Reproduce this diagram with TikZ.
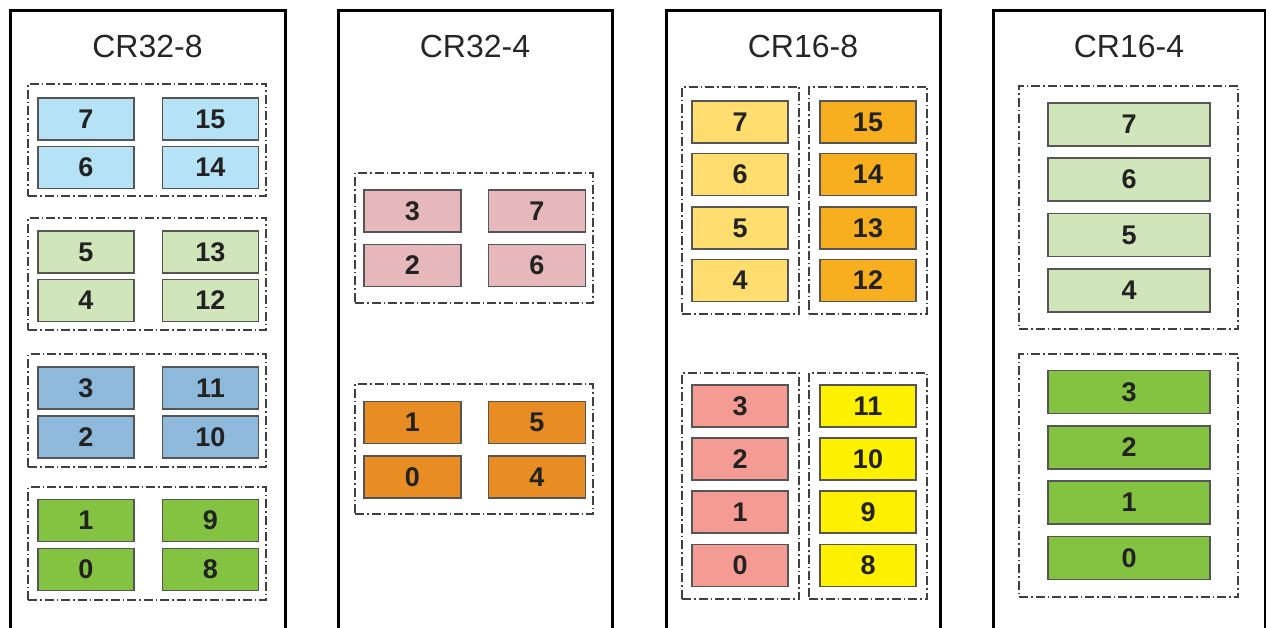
\documentclass[tikz,border=0pt]{standalone}
\usepackage{fontspec}
\setmainfont{Liberation Sans}
\definecolor{cLightBlue}{HTML}{B5E2F4}
\definecolor{cLightGreen}{HTML}{D1E5BA}
\definecolor{cMidBlue}{HTML}{8EB9DB}
\definecolor{cGreen}{HTML}{84C342}
\definecolor{cPink}{HTML}{E6B8BB}
\definecolor{cOrange}{HTML}{E88D23}
\definecolor{cLightYellow}{HTML}{FFDD6F}
\definecolor{cOrangeB}{HTML}{F8AF1F}
\definecolor{cSalmon}{HTML}{F49B93}
\definecolor{cYellow}{HTML}{FFF100}
\definecolor{cBorder}{HTML}{555555}
\definecolor{cText}{HTML}{222222}
\tikzset{
  cell/.style={draw=cBorder, line width=1.3pt, minimum width=96pt, minimum height=42pt,
    inner sep=0pt, text=cText, font=\fontsize{27}{30}\selectfont\bfseries},
  wcell/.style={cell, minimum width=162pt, minimum height=43pt},
  grp/.style={draw=black!75, line width=1.4pt, dash pattern=on 9pt off 3pt on 1.5pt off 3pt,
    inner sep=0pt},
  panelline/.style={line width=3pt, black},
  ttl/.style={font=\fontsize{32}{36}\selectfont, text=black!85, inner sep=0pt}
}
\begin{document}
\begin{tikzpicture}[x=1pt,y=-1pt]
\useasboundingbox (0,0) rectangle (1266,628);
% panels
\draw[panelline] (10,640) -- (10,11) -- (285,11) -- (285,640);
\draw[panelline] (338,640) -- (338,11) -- (612,11) -- (612,640);
\draw[panelline] (666,640) -- (666,11) -- (940,11) -- (940,640);
\draw[panelline] (993,640) -- (993,11) -- (1265,11) -- (1265,640);
\node[ttl] (t1) at (147.5,46) {CR32-8};
\node[ttl] (t2) at (475,46) {CR32-4};
\node[ttl] (t3) at (803,46) {CR16-8};
\node[ttl] (t4) at (1129,46) {CR16-4};
% panel 1
\node[grp, minimum width=238pt, minimum height=112pt] (p1g1) at (147,140) {};
\node[grp, minimum width=238pt, minimum height=112pt] (p1g2) at (147,274) {};
\node[grp, minimum width=238pt, minimum height=113pt] (p1g3) at (147,410.5) {};
\node[grp, minimum width=238pt, minimum height=113pt] (p1g4) at (147,543.5) {};
\node[cell, fill=cLightBlue] (a7) at (86,119) {7};
\node[cell, fill=cLightBlue] (a15) at (210.5,119) {15};
\node[cell, fill=cLightBlue] (a6) at (86,167.5) {6};
\node[cell, fill=cLightBlue] (a14) at (210.5,167.5) {14};
\node[cell, fill=cLightGreen] (a5) at (86,252) {5};
\node[cell, fill=cLightGreen] (a13) at (210.5,252) {13};
\node[cell, fill=cLightGreen] (a4) at (86,300.5) {4};
\node[cell, fill=cLightGreen] (a12) at (210.5,300.5) {12};
\node[cell, fill=cMidBlue] (a3) at (86,388) {3};
\node[cell, fill=cMidBlue] (a11) at (210.5,388) {11};
\node[cell, fill=cMidBlue] (a2) at (86,437) {2};
\node[cell, fill=cMidBlue] (a10) at (210.5,437) {10};
\node[cell, fill=cGreen] (a1) at (86,520.5) {1};
\node[cell, fill=cGreen] (a9) at (210.5,520.5) {9};
\node[cell, fill=cGreen] (a0) at (86,569.5) {0};
\node[cell, fill=cGreen] (a8) at (210.5,569.5) {8};
% panel 2
\node[grp, minimum width=238pt, minimum height=130pt] (p2g1) at (474,238) {};
\node[grp, minimum width=238pt, minimum height=130pt] (p2g2) at (474,449) {};
\node[cell, fill=cPink, minimum width=97pt] (b3) at (412.5,211) {3};
\node[cell, fill=cPink, minimum width=97pt] (b7) at (537,211) {7};
\node[cell, fill=cPink, minimum width=97pt] (b2) at (412.5,265.5) {2};
\node[cell, fill=cPink, minimum width=97pt] (b6) at (537,265.5) {6};
\node[cell, fill=cOrange, minimum width=97pt] (b1) at (412.5,422.5) {1};
\node[cell, fill=cOrange, minimum width=97pt] (b5) at (537,422.5) {5};
\node[cell, fill=cOrange, minimum width=97pt] (b0) at (412.5,477) {0};
\node[cell, fill=cOrange, minimum width=97pt] (b4) at (537,477) {4};
% panel 3
\node[grp, minimum width=117pt, minimum height=227pt] (p3g1) at (740.5,200.5) {};
\node[grp, minimum width=118pt, minimum height=227pt] (p3g2) at (868,200.5) {};
\node[grp, minimum width=117pt, minimum height=226pt] (p3g3) at (740.5,486) {};
\node[grp, minimum width=118pt, minimum height=226pt] (p3g4) at (868,486) {};
\node[cell, fill=cLightYellow] (c7) at (740,122) {7};
\node[cell, fill=cLightYellow] (c6) at (740,174.5) {6};
\node[cell, fill=cLightYellow] (c5) at (740,228) {5};
\node[cell, fill=cLightYellow] (c4) at (740,280.5) {4};
\node[cell, fill=cOrangeB] (c15) at (868,122) {15};
\node[cell, fill=cOrangeB] (c14) at (868,174.5) {14};
\node[cell, fill=cOrangeB] (c13) at (868,228) {13};
\node[cell, fill=cOrangeB] (c12) at (868,280.5) {12};
\node[cell, fill=cSalmon] (c3) at (740,406) {3};
\node[cell, fill=cSalmon] (c2) at (740,459) {2};
\node[cell, fill=cSalmon] (c1) at (740,512) {1};
\node[cell, fill=cSalmon] (c0) at (740,565.5) {0};
\node[cell, fill=cYellow] (c11) at (868,406) {11};
\node[cell, fill=cYellow] (c10) at (868,459) {10};
\node[cell, fill=cYellow] (c9) at (868,512) {9};
\node[cell, fill=cYellow] (c8) at (868,565.5) {8};
% panel 4
\node[grp, minimum width=219pt, minimum height=243pt] (p4g1) at (1128.5,207.5) {};
\node[grp, minimum width=219pt, minimum height=243pt] (p4g2) at (1128.5,475.5) {};
\node[wcell, fill=cLightGreen] (d7) at (1129,124.5) {7};
\node[wcell, fill=cLightGreen] (d6) at (1129,179.5) {6};
\node[wcell, fill=cLightGreen] (d5) at (1129,235) {5};
\node[wcell, fill=cLightGreen] (d4) at (1129,290.5) {4};
\node[wcell, fill=cGreen] (d3) at (1129,392) {3};
\node[wcell, fill=cGreen] (d2) at (1129,447.5) {2};
\node[wcell, fill=cGreen] (d1) at (1129,502.5) {1};
\node[wcell, fill=cGreen] (d0) at (1129,558) {0};
\end{tikzpicture}
\end{document}
